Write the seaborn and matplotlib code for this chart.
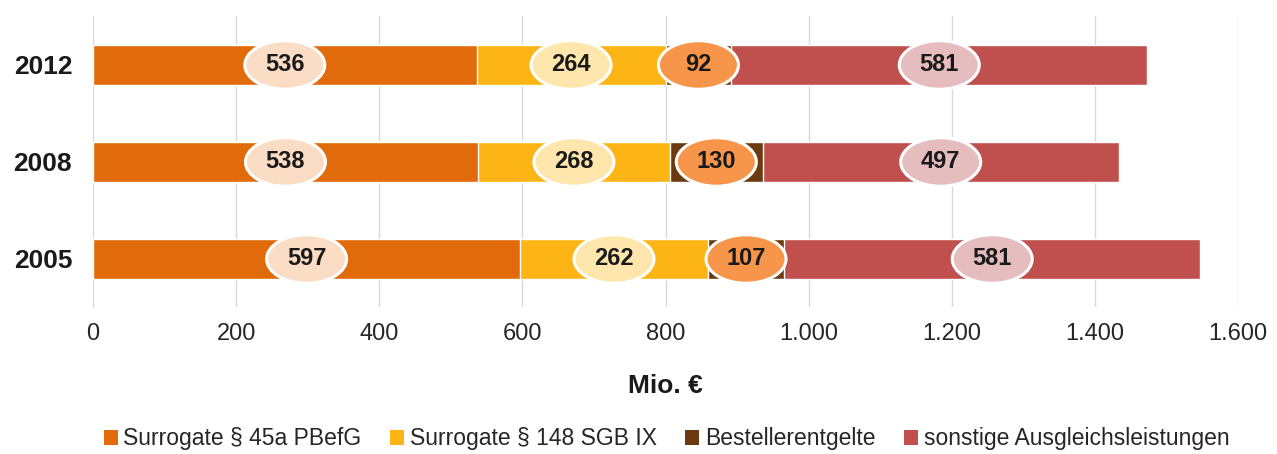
import numpy as np
import pandas as pd
import matplotlib
matplotlib.use("Agg")
import matplotlib.pyplot as plt
from matplotlib.patches import Ellipse, Patch
import seaborn as sns

years = ["2012", "2008", "2005"]
series_names = ["Surrogate § 45a PBefG", "Surrogate § 148 SGB IX",
                "Bestellerentgelte", "sonstige Ausgleichsleistungen"]
surrogate_45a = [536, 538, 597]
surrogate_148 = [264, 268, 262]
besteller = [92, 130, 107]
sonstige = [581, 497, 581]
x_ticks = [0, 200, 400, 600, 800, 1000, 1200, 1400, 1600]
x_tick_labels = ["0", "200", "400", "600", "800", "1.000", "1.200", "1.400", "1.600"]

bar_colors = ["#E16A0A", "#FDB515", "#6B3A10", "#C0504D"]
bubble_colors = ["#FBDCC5", "#FEE6AC", "#F7964A", "#E6BDBF"]

sns.set_theme(style="white")
plt.rcParams["font.family"] = ["Liberation Sans", "DejaVu Sans"]

values = np.array([surrogate_45a, surrogate_148, besteller, sonstige], dtype=float)
cum = np.cumsum(values, axis=0)
starts = cum - values

fig = plt.figure(figsize=(12.77, 4.54), dpi=100)
ax = fig.add_axes([0.0728, 0.3227, 0.8967, 0.6410])

# stacked bars: draw cumulative totals from the outermost layer inwards
for i in range(len(series_names) - 1, -1, -1):
    df = pd.DataFrame({"year": years, "total": cum[i]})
    sns.barplot(data=df, x="total", y="year", order=years, orient="h",
                color=bar_colors[i], saturation=1, width=0.41, ax=ax, zorder=2)

ax.set_xlim(0, 1600)
ax.set_ylim(2.5, -0.5)

# value bubbles at the centre of each segment
x_per_px = 1600 / 1145.0
bw = 80 * x_per_px
bh = 0.50
for i in range(len(series_names)):
    for j, yr in enumerate(years):
        cx = starts[i, j] + values[i, j] / 2
        ax.add_patch(Ellipse((cx, j), bw, bh, facecolor=bubble_colors[i],
                             edgecolor="white", linewidth=2.2, zorder=4))
        ax.text(cx, j, f"{int(values[i, j])}", ha="center", va="center",
                fontsize=17, fontweight="bold", color="#1A1A1A", zorder=5)

ax.set_xticks(x_ticks)
ax.set_xticklabels(x_tick_labels, fontsize=17, color="#262626")
ax.tick_params(axis="x", length=0, pad=11)
ax.tick_params(axis="y", length=0, pad=15)
for lbl in ax.get_yticklabels():
    lbl.set_fontsize(19)
    lbl.set_fontweight("bold")
    lbl.set_color("#1A1A1A")
ax.set_ylabel("")
ax.set_xlabel("Mio. €", fontsize=19, fontweight="bold", color="#1A1A1A", labelpad=21)
ax.xaxis.grid(True, color="#D9D9D9", linewidth=1, zorder=0)
ax.yaxis.grid(False)
ax.set_axisbelow(True)
for s in ax.spines.values():
    s.set_visible(False)

handles = [Patch(facecolor=c, edgecolor="none") for c in bar_colors]
fig.legend(handles, series_names, loc="center", bbox_to_anchor=(0.522, 1 - 439 / 454),
           ncol=4, frameon=False, fontsize=16.5, handlelength=0.6, handleheight=0.6,
           handletextpad=0.25, columnspacing=1.25, labelcolor="#262626",
           borderpad=0, borderaxespad=0)

fig.savefig("out.png", dpi=100)
